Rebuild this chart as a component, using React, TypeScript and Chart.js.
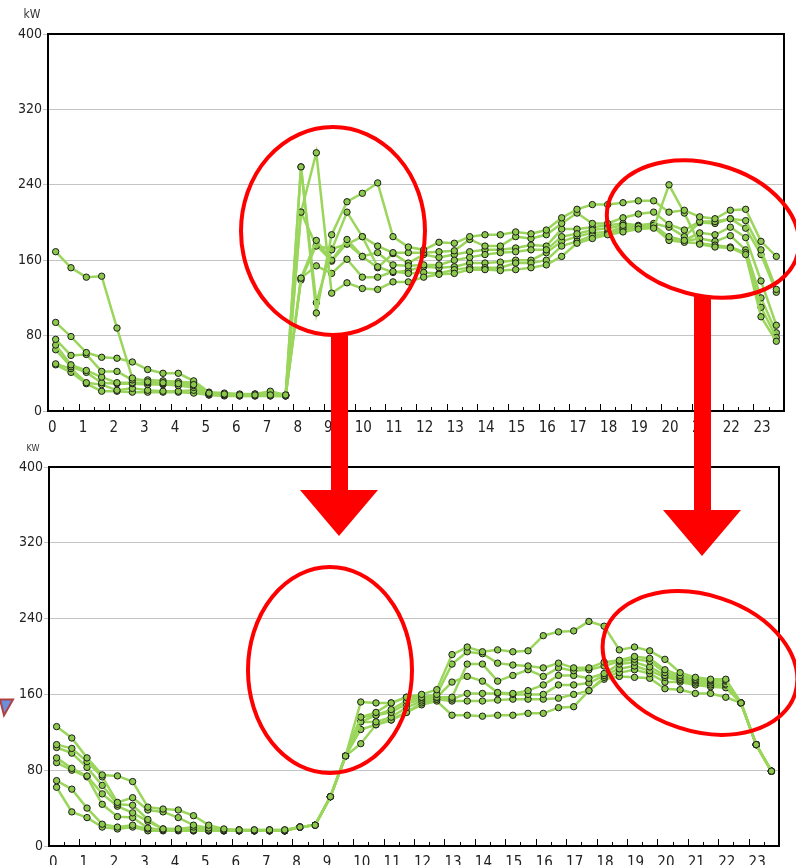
import React, { useEffect, useRef } from 'react';
import { Chart, registerables } from 'chart.js';

Chart.register(...registerables);

// ---------- labels ----------
const hourLabels = ['0', '1', '2', '3', '4', '5', '6', '7', '8', '9', '10', '11', '12', '13', '14', '15', '16', '17', '18', '19', '20', '21', '22', '23'];
const timeSlots = hourLabels.flatMap((h) => [`${h}:00`, `${h}:30`]);
const yTickValues = [0, 80, 160, 240, 320, 400];

// ---------- upper chart (before) : kW per half hour ----------
const beforeDay1 = [169, 152, 142, 143, 88, 35, 31, 30, 29, 28, 19, 18, 17, 17, 17, 17, 259, 104, 187, 222, 231, 242, 185, 174, 171, 179, 178, 185, 187, 187, 190, 188, 192, 205, 214, 219, 219, 221, 223, 223, 211, 213, 206, 204, 213, 214, 180, 164];
const beforeDay2 = [94, 79, 62, 57, 56, 52, 44, 40, 40, 32, 20, 19, 18, 18, 21, 17, 211, 274, 125, 136, 130, 129, 137, 137, 142, 145, 146, 150, 150, 149, 150, 152, 155, 164, 178, 183, 187, 190, 193, 194, 240, 210, 177, 174, 173, 166, 100, 74];
const beforeDay3 = [76, 59, 60, 42, 42, 33, 33, 32, 31, 30, 19, 18, 17, 18, 18, 17, 259, 115, 171, 211, 185, 175, 168, 168, 168, 169, 170, 182, 175, 175, 185, 183, 187, 199, 210, 199, 199, 205, 209, 211, 198, 192, 201, 201, 204, 202, 171, 129];
const beforeDay4 = [70, 49, 43, 36, 30, 30, 30, 29, 30, 27, 18, 18, 17, 17, 17, 17, 141, 181, 160, 182, 164, 168, 155, 154, 155, 155, 160, 163, 166, 168, 169, 171, 171, 185, 188, 192, 194, 197, 196, 197, 185, 181, 189, 187, 195, 184, 138, 91];
const beforeDay5 = [65, 47, 41, 30, 29, 29, 28, 28, 27, 25, 18, 17, 17, 17, 16, 16, 141, 154, 146, 161, 142, 142, 148, 146, 147, 146, 150, 152, 152, 152, 157, 157, 160, 175, 180, 186, 188, 193, 194, 195, 181, 179, 178, 176, 174, 168, 110, 78];
const beforeDay6 = [50, 45, 30, 28, 22, 24, 22, 21, 21, 22, 17, 17, 16, 16, 17, 16, 211, 175, 172, 177, 185, 153, 147, 149, 153, 152, 153, 157, 157, 158, 160, 160, 168, 180, 185, 189, 190, 195, 195, 196, 183, 180, 183, 180, 186, 171, 120, 83];
const beforeDay7 = [49, 41, 29, 21, 21, 20, 20, 20, 20, 19, 17, 16, 16, 16, 16, 16, 139, 176, 159, 178, 164, 152, 167, 157, 166, 163, 166, 169, 171, 171, 173, 176, 175, 193, 193, 195, 197, 199, 197, 199, 195, 185, 200, 199, 204, 194, 166, 126];

// ---------- lower chart (after) : kW per half hour ----------
const afterDay1 = [126, 114, 93, 75, 74, 68, 41, 39, 38, 32, 22, 18, 17, 17, 17, 17, 20, 22, 52, 95, 152, 151, 151, 157, 160, 165, 202, 210, 205, 207, 205, 206, 222, 226, 227, 237, 232, 207, 210, 206, 197, 183, 178, 176, 176, 151, 107, 79];
const afterDay2 = [107, 103, 89, 73, 46, 51, 38, 36, 30, 22, 19, 17, 17, 17, 17, 17, 20, 22, 52, 95, 136, 141, 151, 157, 157, 160, 192, 205, 203, 193, 191, 190, 188, 193, 188, 188, 194, 196, 200, 198, 186, 180, 176, 175, 175, 151, 107, 79];
const afterDay3 = [104, 98, 83, 64, 44, 43, 28, 18, 18, 20, 17, 17, 17, 16, 17, 16, 20, 22, 52, 95, 136, 138, 144, 153, 157, 157, 157, 192, 192, 174, 180, 186, 179, 188, 185, 186, 190, 195, 197, 195, 183, 178, 175, 174, 174, 151, 107, 79];
const afterDay4 = [93, 82, 74, 55, 42, 35, 26, 18, 18, 17, 17, 17, 16, 16, 16, 16, 20, 22, 52, 95, 131, 138, 141, 150, 155, 157, 173, 179, 174, 162, 161, 164, 170, 180, 180, 177, 182, 192, 194, 189, 180, 176, 174, 172, 171, 151, 107, 79];
const afterDay5 = [88, 80, 73, 44, 31, 30, 19, 17, 17, 17, 17, 16, 16, 16, 16, 16, 20, 22, 52, 95, 131, 131, 136, 146, 153, 155, 155, 161, 161, 161, 160, 160, 160, 170, 170, 172, 180, 187, 190, 185, 178, 175, 172, 170, 170, 151, 107, 79];
const afterDay6 = [69, 60, 40, 23, 20, 22, 18, 17, 17, 16, 16, 16, 16, 16, 16, 16, 20, 22, 52, 95, 123, 128, 133, 141, 151, 155, 153, 153, 153, 154, 155, 155, 155, 156, 160, 164, 178, 183, 186, 182, 173, 173, 170, 168, 167, 151, 107, 79];
const afterDay7 = [62, 36, 30, 20, 18, 20, 16, 16, 16, 16, 16, 16, 16, 16, 16, 16, 20, 22, 52, 95, 108, 128, 133, 141, 149, 153, 138, 138, 137, 138, 138, 140, 140, 146, 147, 164, 176, 179, 178, 177, 166, 165, 161, 161, 157, 151, 107, 79];

const beforeSeries = [beforeDay1, beforeDay2, beforeDay3, beforeDay4, beforeDay5, beforeDay6, beforeDay7];
const afterSeries = [afterDay1, afterDay2, afterDay3, afterDay4, afterDay5, afterDay6, afterDay7];

const LINE_COLOR = '#9bd65c';
const POINT_COLOR = '#8cc84b';
const TICK_FONT = "'Liberation Sans Narrow', 'DejaVu Sans Condensed', 'Liberation Sans', sans-serif";

const framePlugin = {
  id: 'frame',
  beforeDatasetsDraw(chart: any) {
    const { ctx, chartArea: a } = chart;
    const n = chart.data.labels.length;
    const w = (a.right - a.left) / n;
    ctx.save();
    ctx.strokeStyle = '#000';
    ctx.lineWidth = 1;
    for (let i = 1; i < n; i++) {
      const x = Math.round(a.left + i * w) + 0.5;
      const len = i % 2 === 0 ? 7 : 4;
      ctx.beginPath();
      ctx.moveTo(x, a.bottom);
      ctx.lineTo(x, a.bottom - len);
      ctx.stroke();
    }
    ctx.restore();
  },
  afterDraw(chart: any, _args: any, opts: any) {
    const { ctx, chartArea: a } = chart;
    const ys = chart.scales.y;
    ctx.save();
    ctx.strokeStyle = '#000';
    ctx.lineWidth = 2;
    ctx.strokeRect(a.left, a.top, a.right - a.left, a.bottom - a.top);
    // small cut-off marker at the left edge (lower panel only)
    if (opts.marker) {
      const my = ys.getPixelForValue(160);
      ctx.beginPath();
      ctx.moveTo(0, my + 5);
      ctx.lineTo(13, my + 5);
      ctx.lineTo(4, my + 21);
      ctx.closePath();
      ctx.fillStyle = '#6b8fdc';
      ctx.fill();
      ctx.strokeStyle = '#b04040';
      ctx.lineWidth = 2;
      ctx.stroke();
    }
    // y tick labels placed through the y scale
    ctx.fillStyle = '#222';
    ctx.font = `14px ${TICK_FONT}`;
    ctx.textAlign = 'right';
    ctx.textBaseline = 'middle';
    yTickValues.forEach((v) => {
      ctx.fillText(String(v), a.left - 6, ys.getPixelForValue(v));
    });
    // unit label
    ctx.fillStyle = '#333';
    ctx.font = opts.font;
    ctx.textAlign = 'center';
    ctx.textBaseline = 'alphabetic';
    ctx.fillText(opts.unit, opts.ux, opts.uy);
    ctx.restore();
  },
};

type Cfg = {
  series: number[][];
  padTop: number;
  padRight: number;
  yWidth: number;
  xHeight: number;
  unit: string;
  unitFont: string;
  ux: number;
  uy: number;
  marker: boolean;
};

function LoadChart({ cfg, width, height }: { cfg: Cfg; width: number; height: number }) {
  const ref = useRef<HTMLCanvasElement | null>(null);
  useEffect(() => {
    if (!ref.current) return;
    const chart = new Chart(ref.current, {
      type: 'line',
      data: {
        labels: timeSlots,
        datasets: cfg.series.map((d, i) => ({
          label: `day${i + 1}`,
          data: d,
          borderColor: LINE_COLOR,
          borderWidth: 2.5,
          pointRadius: 3.2,
          pointBackgroundColor: POINT_COLOR,
          pointBorderColor: '#1c1c1c',
          pointBorderWidth: 1,
          tension: 0,
          fill: false,
        })),
      },
      options: {
        animation: false,
        responsive: false,
        maintainAspectRatio: false,
        devicePixelRatio: 1,
        layout: { padding: { top: cfg.padTop, right: cfg.padRight, left: 0, bottom: 0 } },
        plugins: {
          legend: { display: false },
          tooltip: { enabled: false },
          frame: { unit: cfg.unit, font: cfg.unitFont, ux: cfg.ux, uy: cfg.uy, marker: cfg.marker },
        } as any,
        scales: {
          x: {
            type: 'category',
            offset: true,
            grid: { display: false, drawTicks: false },
            border: { display: false },
            ticks: {
              autoSkip: false,
              maxRotation: 0,
              minRotation: 0,
              align: 'start',
              labelOffset: -7.6,
              padding: 8,
              color: '#222',
              font: { family: TICK_FONT, size: 15 },
              callback: (_v: any, i: number) => (i % 2 === 0 ? hourLabels[i / 2] : ''),
            },
            afterFit: (s: any) => {
              s.height = cfg.xHeight;
            },
          },
          y: {
            type: 'linear',
            min: yTickValues[0],
            max: yTickValues[yTickValues.length - 1],
            afterBuildTicks: (s: any) => {
              s.ticks = yTickValues.map((v) => ({ value: v }));
            },
            ticks: { autoSkip: false, display: false },
            grid: { color: '#c4c4c4', lineWidth: 1, tickLength: 5 },
            border: { display: false },
            afterFit: (s: any) => {
              s.width = cfg.yWidth;
            },
          },
        },
      },
      plugins: [framePlugin],
    });
    return () => chart.destroy();
  }, [cfg]);
  return <canvas ref={ref} width={width} height={height} style={{ display: 'block', width, height }} />;
}

const topCfg: Cfg = {
  series: beforeSeries,
  padTop: 34,
  padRight: 12,
  yWidth: 48,
  xHeight: 29,
  unit: 'kW',
  unitFont: `12px ${TICK_FONT}`,
  ux: 32,
  uy: 18,
  marker: false,
};

const bottomCfg: Cfg = {
  series: afterSeries,
  padTop: 27,
  padRight: 17,
  yWidth: 49,
  xHeight: 19,
  unit: 'KW',
  unitFont: `9px ${TICK_FONT}`,
  ux: 33,
  uy: 11,
  marker: true,
};

export default function App() {
  return (
    <div style={{ position: 'fixed', left: 0, top: 0, width: 796, height: 865, background: '#fff', overflow: 'hidden' }}>
      <div style={{ position: 'absolute', left: 0, top: 0 }}>
        <LoadChart cfg={topCfg} width={796} height={440} />
      </div>
      <div style={{ position: 'absolute', left: 0, top: 440 }}>
        <LoadChart cfg={bottomCfg} width={796} height={425} />
      </div>
      <svg width={796} height={865} style={{ position: 'absolute', left: 0, top: 0, pointerEvents: 'none' }}>
        <g fill="none" stroke="#ff0000" strokeWidth={4}>
          <ellipse cx={333} cy={231} rx={92} ry={104} />
          <ellipse cx={703} cy={229} rx={98} ry={66} transform="rotate(15 703 229)" />
          <ellipse cx={330} cy={670} rx={82} ry={103} />
          <ellipse cx={700} cy={663} rx={100} ry={68} transform="rotate(18 700 663)" />
        </g>
        <g fill="#ff0000">
          <rect x={331} y={333} width={17} height={158} />
          <polygon points="300,490 378,490 339,536" />
          <rect x={694} y={296} width={17} height={215} />
          <polygon points="663,510 741,510 702,556" />
        </g>
      </svg>
    </div>
  );
}
